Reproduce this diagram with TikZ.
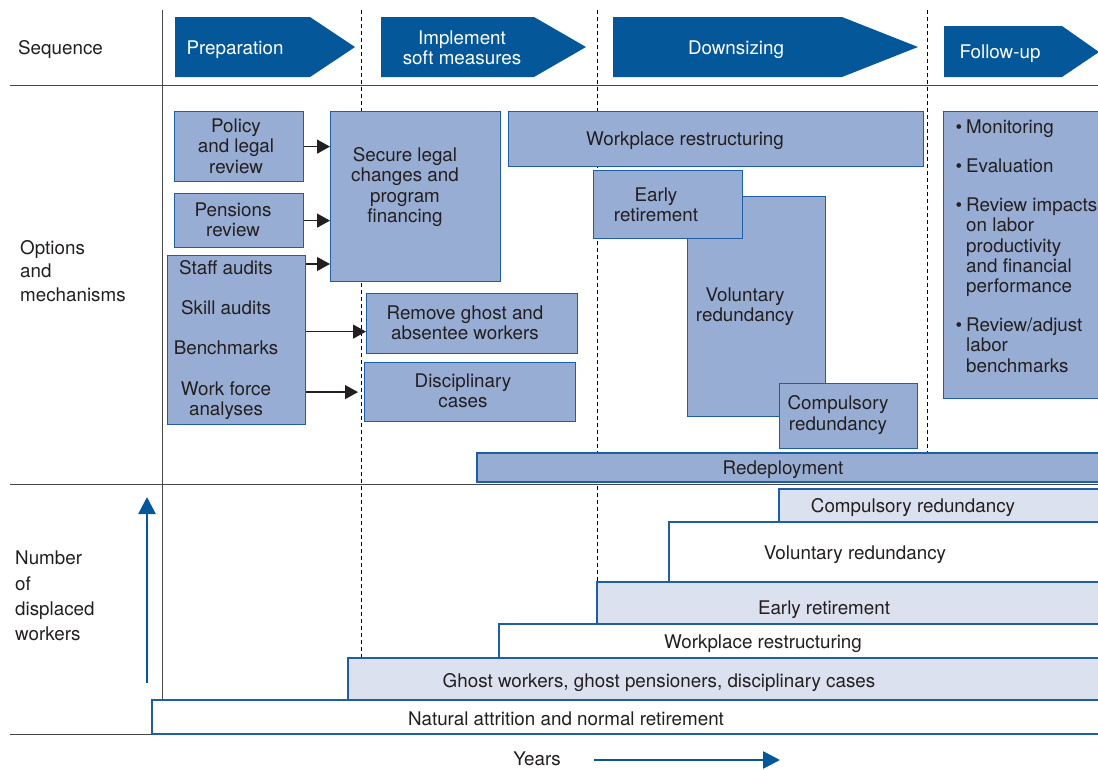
\documentclass[tikz,border=0pt]{standalone}
\usepackage{fontspec}
\setmainfont{TeX Gyre Heros}
\usetikzlibrary{arrows.meta}
\definecolor{seqblue}{RGB}{4,87,153}
\definecolor{boxblue}{RGB}{30,94,165}
\definecolor{midfill}{RGB}{152,173,211}
\definecolor{lightfill}{RGB}{219,225,239}
\definecolor{inkgray}{RGB}{35,31,32}
\definecolor{rulegray}{RGB}{70,70,70}

\begin{document}
\begin{tikzpicture}[x=1pt,y=-1pt,
    every node/.style={font=\fontsize{18.8}{20.3}\selectfont, text=inkgray, inner sep=0pt},
    txt/.style={align=center},
    midbox/.style={draw=boxblue, fill=midfill, line width=1.2pt, anchor=north west},
    bar/.style={draw=boxblue, line width=1.2pt},
    seq/.style={fill=seqblue},
    seqtxt/.style={text=white, align=center},
    rule/.style={draw=rulegray, line width=1pt},
    phase/.style={dash pattern=on 4pt off 3pt, line width=0.8pt},
    arr/.style={-{Triangle[length=13pt,width=14pt]}, line width=1.3pt, draw=inkgray},
    axis/.style={-{Triangle[length=17pt,width=17pt]}, line width=2.6pt, draw=seqblue}]
  \clip (0,0) rectangle (1098,769);

  % grid of the chart
  \draw[phase] (361,10) -- (361,658);
  \draw[phase] (597,10) -- (597,582);
  \draw[phase] (927,10) -- (927,484);
  \draw[rule] (162,10) -- (162,700);
  \draw[rule] (10,85) -- (1098,85);
  \draw[rule] (10,484) -- (1098,484);
  \draw[rule] (10,734) -- (1098,734);

  % sequence
  \node[anchor=west] (seqlabel) at (18,49.5) {Sequence};
  \fill[seq] (175,17) -- (310,17) -- (355,47) -- (310,77) -- (175,77) -- cycle;
  \node[seqtxt] (prep) at (235,49.5) {Preparation};
  \fill[seq] (381,17) -- (534,17) -- (586,47) -- (534,77) -- (381,77) -- cycle;
  \node[seqtxt] (soft) at (462,48) {Implement\\soft measures};
  \fill[seq] (613,17) -- (842,17) -- (918,47) -- (842,77) -- (613,77) -- cycle;
  \node[seqtxt] (down) at (736,49.5) {Downsizing};
  \fill[seq] (944,26) -- (1062,26) -- (1099,52) -- (1062,77) -- (944,77) -- cycle;
  \node[seqtxt] (follow) at (1000,53.5) {Follow-up};

  % options and mechanisms
  \node[anchor=west, align=left] (optlabel) at (20,271) {Options\\[3.5pt]and\\[3.5pt]mechanisms};
  \node[midbox, minimum width=129, minimum height=70] (policy) at (174,111) {};
  \node[txt] (policy-t) at (236,146) {Policy\\and legal\\review};
  \node[midbox, minimum width=129, minimum height=54] (pensions) at (174,193) {};
  \node[txt] (pensions-t) at (233,220) {Pensions\\review};
  \node[midbox, minimum width=138, minimum height=169] (staff) at (167,255) {};
  \node[txt] (staff-t) at (226,340) {Staff audits\\[20pt]Skill audits\\[20pt]Benchmarks\\[20pt]Work force\\analyses};
  \node[midbox, minimum width=170, minimum height=170] (secure) at (330,111) {};
  \node[txt] (secure-t) at (405,187) {Secure legal\\changes and\\program\\financing};
  \node[midbox, minimum width=211, minimum height=60] (remove) at (366,293) {};
  \node[txt] (remove-t) at (465,323) {Remove ghost and\\absentee workers};
  \node[midbox, minimum width=211, minimum height=59] (disc) at (364,362) {};
  \node[txt] (disc-t) at (463,391) {Disciplinary\\cases};
  \node[midbox, minimum width=415, minimum height=55] (restruct) at (508,111) {};
  \node[txt] (restruct-t) at (685,140.5) {Workplace restructuring};
  \node[midbox, minimum width=138, minimum height=220] (volunt) at (687,196) {};
  \node[txt] (volunt-t) at (745,307) {Voluntary\\redundancy};
  \node[midbox, minimum width=149, minimum height=68] (early) at (593,170) {};
  \node[txt] (early-t) at (656,205) {Early\\retirement};
  \node[midbox, minimum width=138, minimum height=65] (compul) at (779,383) {};
  \node[txt] (compul-t) at (838,415) {Compulsory\\redundancy};
  \node[midbox, minimum width=170, minimum height=287] (review) at (943,111) {};
  \node[align=left, anchor=north west] (review-t) at (966,120)
    {\llap{\textbullet\hspace{4pt}}Monitoring\\[18.5pt]
     \llap{\textbullet\hspace{4pt}}Evaluation\\[18.5pt]
     \llap{\textbullet\hspace{4pt}}Review impacts\\on labor\\productivity\\and financial\\performance\\[18.5pt]
     \llap{\textbullet\hspace{4pt}}Review/adjust\\labor\\benchmarks};
  \draw[bar, fill=midfill] (477,453) rectangle (1110,482);
  \node (redeploy) at (783,469.5) {Redeployment};

  \coordinate (staff-a) at ([yshift=-9pt]staff.north east);
  \coordinate (remove-in) at ([yshift=-8pt]remove.west);
  \draw[arr] (policy.east) -- (policy.east -| secure.west);
  \draw[arr] (pensions.east) -- (pensions.east -| secure.west);
  \draw[arr] (staff-a) -- (staff-a -| secure.west);
  \draw[arr] (remove-in -| staff.east) -- (remove-in);
  \draw[arr, shorten >=6pt] (disc.west -| staff.east) -- (disc.west);

  % number of displaced workers
  \node[anchor=west, align=left] (numlabel) at (15,596) {Number\\[5pt]of\\[5pt]displaced\\[5pt]workers};
  \draw[bar, fill=lightfill] (779,489) rectangle (1110,522);
  \node (compbar) at (913,507.5) {Compulsory redundancy};
  \draw[bar, fill=white] (669,522) rectangle (1110,582);
  \node (voluntbar) at (855,554.5) {Voluntary redundancy};
  \draw[bar, fill=lightfill] (597,582) rectangle (1110,624);
  \node (earlybar) at (824,609.5) {Early retirement};
  \draw[bar, fill=white] (499,624) rectangle (1110,658);
  \node (restructbar) at (763,643.5) {Workplace restructuring};
  \draw[bar, fill=lightfill] (348,658) rectangle (1110,700);
  \node (ghostbar) at (659,682.5) {Ghost workers, ghost pensioners, disciplinary cases};
  \draw[bar, fill=white] (152,700) rectangle (1110,734);
  \node (naturalbar) at (566,718.5) {Natural attrition and normal retirement};

  \coordinate (count-lo) at (147,683);
  \coordinate (count-hi) at (147,497);
  \draw[axis] (count-lo) -- (count-hi);
  \node (years) at (537,758.5) {Years};
  \coordinate (time-lo) at (594,760);
  \coordinate (time-hi) at (780,760);
  \draw[axis] (time-lo) -- (time-hi);
\end{tikzpicture}
\end{document}
